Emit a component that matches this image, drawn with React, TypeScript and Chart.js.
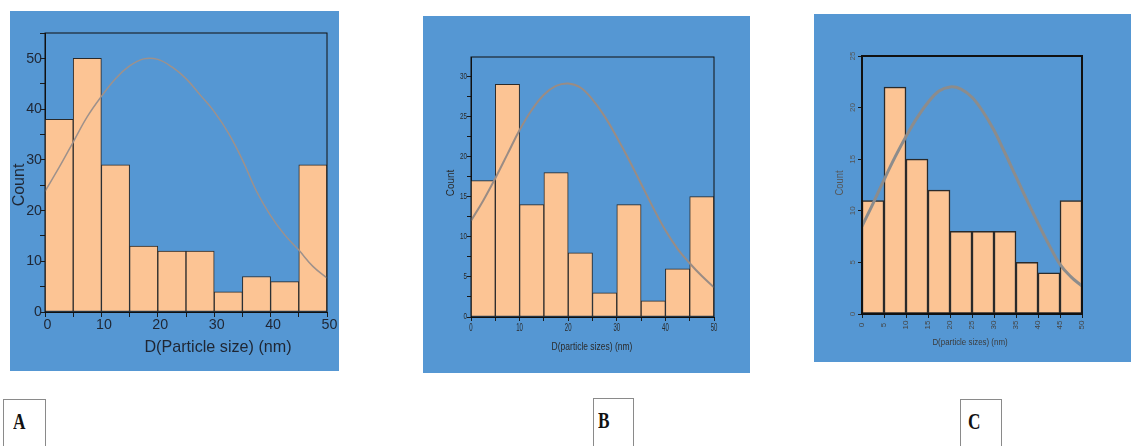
import React, { useEffect, useRef } from 'react';
import { Chart, registerables } from 'chart.js';

Chart.register(...registerables);

// ---------- data ----------
const BIN_CENTERS = [2.5, 7.5, 12.5, 17.5, 22.5, 27.5, 32.5, 37.5, 42.5, 47.5];
const COUNTS_A = [38, 50, 29, 13, 12, 12, 4, 7, 6, 29];
const COUNTS_B = [17, 29, 14, 18, 8, 3, 14, 2, 6, 15];
const COUNTS_C = [11, 22, 15, 12, 8, 8, 8, 5, 4, 11];

const FIT_X = [0, 2.5, 5, 7.5, 10, 12.5, 15, 17.5, 20, 22.5, 25, 27.5, 30, 32.5, 35, 37.5, 40, 42.5, 45, 47.5, 50];
const FIT_A = [23.8, 28.5, 33.5, 38.5, 42.5, 46, 48.5, 49.9, 49.8, 48.3, 46, 42.8, 39.5, 35.3, 30, 23.8, 19, 15.2, 12.2, 9, 6.7];
const FIT_B = [12, 14.5, 17.3, 20.3, 23.3, 25.8, 27.7, 28.8, 29.1, 28.6, 27.1, 25, 22.4, 19.6, 16.6, 13.6, 10.8, 8.5, 6.7, 5.1, 3.7];
const FIT_C = [8.5, 10.7, 13, 15.2, 17.2, 19, 20.5, 21.6, 22, 21.8, 21, 19.6, 17.8, 15.6, 13.3, 11, 8.8, 6.7, 4.8, 3.6, 2.7];

const X_MARKS = [0, 5, 10, 15, 20, 25, 30, 35, 40, 45, 50];
const X_LABELS_AB = [0, 10, 20, 30, 40, 50];
const X_LABELS_C = [0, 5, 10, 15, 20, 25, 30, 35, 40, 45, 50];
const Y_MARKS_A = [0, 5, 10, 15, 20, 25, 30, 35, 40, 45, 50, 55];
const Y_LABELS_A = [0, 10, 20, 30, 40, 50];
const Y_MARKS_B = [0, 2.5, 5, 7.5, 10, 12.5, 15, 17.5, 20, 22.5, 25, 27.5, 30];
const Y_LABELS_B = [0, 5, 10, 15, 20, 25, 30];
const Y_MARKS_C = [0, 5, 10, 15, 20, 25];
const Y_LABELS_C = [0, 5, 10, 15, 20, 25];

const X_TITLES = ['D(Particle size) (nm)', 'D(particle sizes) (nm)', 'D(particle sizes) (nm)'];
const Y_TITLE = 'Count';
const PANEL_LABELS = ['A', 'B', 'C'];

// ---------- drawing helpers ----------
type TS = { size: number; color: string; sx?: number; dx?: number; dy?: number; rot?: boolean };
const FAMILY = '"Liberation Sans", Arial, sans-serif';

function drawText(ctx: CanvasRenderingContext2D, text: string, x: number, y: number, st: TS,
  align: CanvasTextAlign, baseline: CanvasTextBaseline, rot = 0) {
  ctx.save();
  ctx.translate(x, y);
  if (rot) ctx.rotate(rot);
  ctx.scale(st.sx ?? 1, 1);
  ctx.font = `${st.size}px ${FAMILY}`;
  ctx.fillStyle = st.color;
  ctx.textAlign = align;
  ctx.textBaseline = baseline;
  ctx.fillText(text, 0, 0);
  ctx.restore();
}

interface Spec {
  left: number; top: number; width: number; height: number;
  m: { left: number; top: number; right: number; bottom: number };
  yMax: number;
  counts: number[]; fit: number[];
  xLabels: number[]; yMarks: number[]; yLabels: number[];
  xTitle: string;
  xLab: TS; yLab: TS; xTitleSt: TS; yTitleSt: TS;
  xTitlePos: [number, number]; yTitlePos: [number, number];
  frameW: number; barBorder: number; fitColor: string; fitW: number; tickLen: number;
}

const BLUE = '#5597d3';
const PEACH = '#fcc494';

const SPECS: Spec[] = [
  {
    left: 10, top: 11, width: 329, height: 360,
    m: { left: 35, top: 22, right: 12, bottom: 59 },
    yMax: 55, counts: COUNTS_A, fit: FIT_A,
    xLabels: X_LABELS_AB, yMarks: Y_MARKS_A, yLabels: Y_LABELS_A, xTitle: X_TITLES[0],
    xLab: { size: 15, color: '#1f2633', sx: 0.95, dx: 2.5, dy: 13 },
    yLab: { size: 15, color: '#1f2633', sx: 0.95, dx: 3 },
    xTitleSt: { size: 17, color: '#1f2633', sx: 0.95 },
    yTitleSt: { size: 16, color: '#1f2633' },
    xTitlePos: [208, 336], yTitlePos: [10, 174],
    frameW: 1, barBorder: 1, fitColor: '#9e918b', fitW: 1.5, tickLen: 5,
  },
  {
    left: 423, top: 16, width: 327, height: 357,
    m: { left: 48, top: 41, right: 36, bottom: 56 },
    yMax: 32.4, counts: COUNTS_B, fit: FIT_B,
    xLabels: X_LABELS_AB, yMarks: Y_MARKS_B, yLabels: Y_LABELS_B, xTitle: X_TITLES[1],
    xLab: { size: 10, color: '#2a2a2a', sx: 0.6, dx: 0, dy: 11 },
    yLab: { size: 9, color: '#2a2a2a', sx: 0.7, dx: 4 },
    xTitleSt: { size: 10, color: '#2a2a2a', sx: 0.85 },
    yTitleSt: { size: 11, color: '#2a2a2a', sx: 0.9 },
    xTitlePos: [169, 331], yTitlePos: [28, 167],
    frameW: 1, barBorder: 1, fitColor: '#9a8c84', fitW: 2, tickLen: 4,
  },
  {
    left: 814, top: 14, width: 317, height: 348,
    m: { left: 48, top: 42, right: 49, bottom: 48 },
    yMax: 25, counts: COUNTS_C, fit: FIT_C,
    xLabels: X_LABELS_C, yMarks: Y_MARKS_C, yLabels: Y_LABELS_C, xTitle: X_TITLES[2],
    xLab: { size: 8, color: '#444', dx: 0, dy: 11, rot: true },
    yLab: { size: 8, color: '#555', dx: 9, rot: true },
    xTitleSt: { size: 9, color: '#3a3a3a', sx: 0.88 },
    yTitleSt: { size: 11, color: '#555', sx: 0.85 },
    xTitlePos: [156, 329], yTitlePos: [26, 169],
    frameW: 2, barBorder: 1.5, fitColor: '#8c8c8c', fitW: 3, tickLen: 4,
  },
];

function makeDeco(p: Spec) {
  return {
    id: 'deco',
    afterDatasetsDraw(chart: any) {
      const { ctx, chartArea: a } = chart;
      ctx.save();
      ctx.strokeStyle = '#111';
      ctx.lineWidth = p.frameW;
      ctx.strokeRect(a.left, a.top, a.right - a.left, a.bottom - a.top);
      ctx.restore();
    },
    afterDraw(chart: any) {
      const { ctx, chartArea: a, scales } = chart;
      const xs = scales.x, ys = scales.y;
      p.xLabels.forEach((v) => {
        const px = xs.getPixelForValue(v) + (p.xLab.dx ?? 0);
        const py = a.bottom + (p.xLab.dy ?? 0);
        drawText(ctx, String(v), px, py, p.xLab, 'center', 'middle', p.xLab.rot ? -Math.PI / 2 : 0);
      });
      p.yLabels.forEach((v) => {
        const py = ys.getPixelForValue(v);
        const px = a.left - (p.yLab.dx ?? 0);
        if (p.yLab.rot) drawText(ctx, String(v), px, py, p.yLab, 'center', 'middle', -Math.PI / 2);
        else drawText(ctx, String(v), px, py, p.yLab, 'right', 'middle');
      });
      drawText(ctx, p.xTitle, p.xTitlePos[0], p.xTitlePos[1], p.xTitleSt, 'center', 'middle');
      drawText(ctx, Y_TITLE, p.yTitlePos[0], p.yTitlePos[1], p.yTitleSt, 'center', 'middle', -Math.PI / 2);
    },
  };
}

function Panel({ p }: { p: Spec }) {
  const ref = useRef<HTMLCanvasElement | null>(null);
  useEffect(() => {
    if (!ref.current) return;
    const tickGrid = {
      display: true, drawOnChartArea: false, drawTicks: true, tickLength: p.tickLen, color: '#1a1a1a', lineWidth: 1,
    };
    const chart = new Chart(ref.current, {
      type: 'bar',
      data: {
        datasets: [
          {
            type: 'line',
            data: FIT_X.map((x, i) => ({ x, y: p.fit[i] })),
            borderColor: p.fitColor,
            borderWidth: p.fitW,
            pointRadius: 0,
            tension: 0.4,
            fill: false,
            order: 1,
          } as any,
          {
            type: 'bar',
            data: BIN_CENTERS.map((x, i) => ({ x, y: p.counts[i] })),
            backgroundColor: PEACH,
            borderColor: '#2a2a2a',
            borderWidth: p.barBorder,
            borderSkipped: false,
            barPercentage: 1,
            categoryPercentage: 1,
            order: 2,
          } as any,
        ],
      },
      options: {
        responsive: false,
        animation: false,
        devicePixelRatio: 1,
        layout: { padding: { left: 0, top: p.m.top, right: p.m.right, bottom: 0 } },
        plugins: { legend: { display: false }, tooltip: { enabled: false } },
        scales: {
          x: {
            type: 'linear', min: 0, max: 50, offset: false,
            ticks: { display: false },
            grid: { ...tickGrid, offset: false },
            border: { display: true, color: '#111', width: 1 },
            afterBuildTicks: (s: any) => { s.ticks = X_MARKS.map((v) => ({ value: v })); },
            afterFit: (s: any) => { s.height = p.m.bottom; },
          },
          y: {
            type: 'linear', min: 0, max: p.yMax,
            ticks: { display: false },
            grid: tickGrid,
            border: { display: true, color: '#111', width: 1 },
            afterBuildTicks: (s: any) => { s.ticks = p.yMarks.map((v) => ({ value: v })); },
            afterFit: (s: any) => { s.width = p.m.left; },
          },
        },
      } as any,
      plugins: [makeDeco(p)],
    });
    return () => chart.destroy();
  }, [p]);
  return (
    <div style={{ position: 'absolute', left: p.left, top: p.top, width: p.width, height: p.height, background: BLUE }}>
      <canvas ref={ref} width={p.width} height={p.height} style={{ display: 'block' }} />
    </div>
  );
}

const BOXES = [
  { left: 3, top: 399, width: 43, textLeft: 9 },
  { left: 593, top: 398, width: 41, textLeft: 4 },
  { left: 960, top: 399, width: 42, textLeft: 7 },
];

export default function App() {
  return (
    <div style={{ position: 'absolute', left: 0, top: 0, width: 1131, height: 446, overflow: 'hidden', background: '#fff' }}>
      {SPECS.map((p, i) => <Panel key={i} p={p} />)}
      {BOXES.map((b, i) => (
        <div key={i} style={{
          position: 'absolute', left: b.left, top: b.top, width: b.width, height: 60,
          border: '1.5px solid #8a8a8a', boxSizing: 'border-box', background: '#fff',
        }}>
          <span style={{
            position: 'absolute', left: b.textLeft, top: 9, fontFamily: '"Liberation Serif", "Times New Roman", serif',
            fontWeight: 'bold', fontSize: 24, lineHeight: '24px', transform: 'scaleX(0.72)', transformOrigin: 'left top', color: '#111',
          }}>{PANEL_LABELS[i]}</span>
        </div>
      ))}
    </div>
  );
}
